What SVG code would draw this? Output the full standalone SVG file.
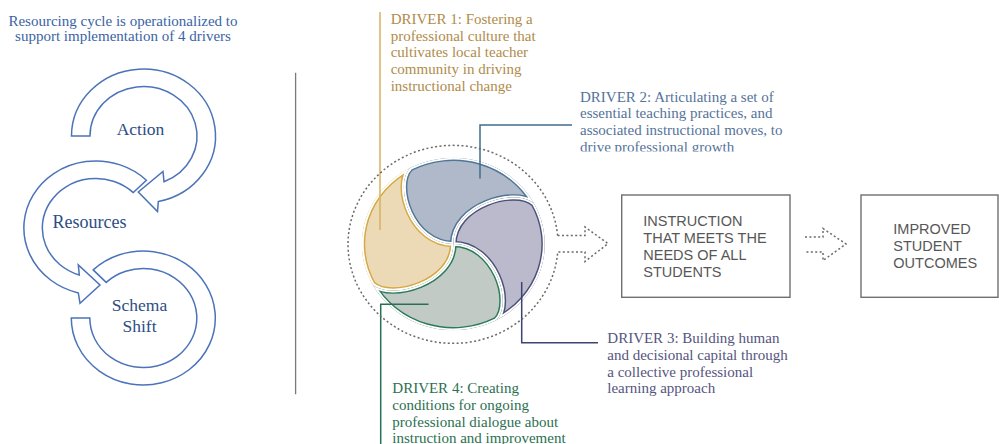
<svg xmlns="http://www.w3.org/2000/svg" xmlns:xlink="http://www.w3.org/1999/xlink" width="999" height="444" viewBox="0 0 999 444">
  <style>
    .serif { font-family: "Liberation Serif", "Times New Roman", serif; }
    .sans { font-family: "Liberation Sans", Arial, sans-serif; }
    .title { font-size: 15px; fill: #3a63a5; }
    .loop { fill: #ffffff; stroke: #4b73b9; stroke-width: 1.5; stroke-linejoin: miter; }
    .loop-label { font-size: 17.5px; fill: #2c4d85; }
    .drv { font-size: 15px; }
    .d1 { fill: #b08c4a; }
    .d2 { fill: #55739a; }
    .d3 { fill: #55557e; }
    .d4 { fill: #2b7050; }
    .box { fill: #ffffff; stroke: #6f6f6f; stroke-width: 1.4; }
    .box-text { font-size: 14.5px; fill: #575757; }
    .dots { fill: none; stroke: #6a6a6a; stroke-width: 1.5; stroke-dasharray: 2 2.4; }
    .lead { fill: none; stroke-width: 1.5; }
    .gap { fill: none; stroke: #ffffff; stroke-width: 3.8; }
  </style>
  <defs>
    <!-- one quarter of the pinwheel, centred on the origin -->
    <path id="tile" d="M -41.3 -77.7 A 88 88 0 0 0 -77.7 41.3 C -60 58 0 40 0 0 C -40 0 -58 -60 -41.3 -77.7 Z"/>
    <clipPath id="tileClip"><use xlink:href="#tile"/></clipPath>
    <clipPath id="d2Clip"><rect x="560" y="80" width="260" height="71.5"/></clipPath>
  </defs>

  <rect width="999" height="444" fill="#ffffff"/>

  <!-- heading over the resourcing cycle -->
  <g id="cycle-title" class="serif title" text-anchor="middle">
    <text x="123" y="25.5">Resourcing cycle is operationalized to</text>
    <text x="123" y="40.7">support implementation of 4 drivers</text>
  </g>

  <!-- resourcing cycle loops -->
  <g id="loop-action">
    <path class="loop" d="M 71.5 136 A 72 67 0 1 1 158.3 201.6 L 157.5 211.5 L 138.3 192 L 163 171.5 L 164 181.7 A 53.5 49.5 0 1 0 90 136 Z"/>
    <text class="serif loop-label" x="140.5" y="135" text-anchor="middle">Action</text>
  </g>
  <g id="loop-resources">
    <path class="loop" d="M 146.4 180.2 A 72 67 0 1 0 78.3 292.9 L 80 303.3 L 100 285 L 78.3 265 L 79.3 275 A 53.5 49.5 0 1 1 133.3 192.6 Z"/>
    <text class="serif loop-label" x="89.5" y="227.7" text-anchor="middle" style="font-size:18px">Resources</text>
  </g>
  <g id="loop-schema">
    <path class="loop" d="M 93.2 269.9 A 72 67 0 1 1 71.3 318 L 89.8 318 A 53.5 49.5 0 1 0 106.2 282.4 Z"/>
    <text class="serif loop-label" x="139.5" y="311" text-anchor="middle">Schema</text>
    <text class="serif loop-label" x="139.5" y="331.7" text-anchor="middle">Shift</text>
  </g>

  <!-- divider -->
  <g id="divider">
    <line x1="295.6" y1="72.7" x2="295.6" y2="394.3" stroke="#7a7a7a" stroke-width="1.3"/>
  </g>

  <!-- pinwheel of the four drivers -->
  <g id="driver-1-piece" transform="translate(453.3,244) scale(1.04,0.98)">
    <g clip-path="url(#tileClip)">
      <use xlink:href="#tile" fill="#ecd9b5" stroke="#d6a844" stroke-width="6.6"/>
      <use xlink:href="#tile" class="gap"/>
    </g>
  </g>
  <g id="driver-2-piece" transform="translate(453.3,244) scale(1.04,0.98) rotate(90)">
    <g clip-path="url(#tileClip)">
      <use xlink:href="#tile" fill="#b0b9ca" stroke="#4f7694" stroke-width="6.6"/>
      <use xlink:href="#tile" class="gap"/>
    </g>
  </g>
  <g id="driver-3-piece" transform="translate(453.3,244) scale(1.04,0.98) rotate(180)">
    <g clip-path="url(#tileClip)">
      <use xlink:href="#tile" fill="#bbbacc" stroke="#4c5179" stroke-width="6.6"/>
      <use xlink:href="#tile" class="gap"/>
    </g>
  </g>
  <g id="driver-4-piece" transform="translate(453.3,244) scale(1.04,0.98) rotate(270)">
    <g clip-path="url(#tileClip)">
      <use xlink:href="#tile" fill="#c1cac4" stroke="#2b7a5a" stroke-width="6.6"/>
      <use xlink:href="#tile" class="gap"/>
    </g>
  </g>

  <!-- driver labels -->
  <g id="driver-1-label" class="serif drv d1">
    <text x="390.7" y="24">DRIVER 1: Fostering a</text>
    <text x="390.7" y="40.7">professional culture that</text>
    <text x="390.7" y="57.4">cultivates local teacher</text>
    <text x="390.7" y="74.1">community in driving</text>
    <text x="390.7" y="90.8">instructional change</text>
  </g>
  <g id="driver-2-label" class="serif drv d2" clip-path="url(#d2Clip)">
    <text x="580" y="101.7">DRIVER 2: Articulating a set of</text>
    <text x="580" y="118.4">essential teaching practices, and</text>
    <text x="580" y="135.1">associated instructional moves, to</text>
    <text x="580" y="151.8">drive professional growth</text>
  </g>
  <g id="driver-3-label" class="serif drv d3">
    <text x="607.3" y="343.3">DRIVER 3: Building human</text>
    <text x="607.3" y="360">and decisional capital through</text>
    <text x="607.3" y="376.7">a collective professional</text>
    <text x="607.3" y="393.4">learning approach</text>
  </g>
  <g id="driver-4-label" class="serif drv d4">
    <text x="392.3" y="393.3">DRIVER 4: Creating</text>
    <text x="392.3" y="410">conditions for ongoing</text>
    <text x="392.3" y="426.7">professional dialogue about</text>
    <text x="392.3" y="443.4">instruction and improvement</text>
  </g>

  <!-- outcome boxes -->
  <g id="box-instruction">
    <rect class="box" x="621.7" y="195" width="168.3" height="102.3"/>
    <g class="sans box-text">
      <text x="643.3" y="225.5">INSTRUCTION</text>
      <text x="643.3" y="242.5">THAT MEETS THE</text>
      <text x="643.3" y="259.5">NEEDS OF ALL</text>
      <text x="643.3" y="276.5">STUDENTS</text>
    </g>
  </g>
  <g id="box-outcomes">
    <rect class="box" x="861" y="195" width="137" height="102.3"/>
    <g class="sans box-text">
      <text x="893.3" y="234">IMPROVED</text>
      <text x="893.3" y="251">STUDENT</text>
      <text x="893.3" y="268">OUTCOMES</text>
    </g>
  </g>

  <!-- connectors: leader lines and dotted flow arrows -->
  <g id="connectors">
    <polyline class="lead" stroke="#d9b15f" points="380,12 380,230"/>
    <polyline class="lead" stroke="#3f6d8c" points="572,125 480,125 480,178.5"/>
    <polyline class="lead" stroke="#3c4470" points="521.7,282 521.7,342.8 598,342.8"/>
    <polyline class="lead" stroke="#2c6e52" points="428.5,304.3 380.7,304.3 380.7,444"/>
    <path class="dots" d="M 557.6 235.6 L 585 235.6 L 585 227 L 608 243.6 L 585 261.5 L 585 252 L 557.7 252 A 105 99 0 1 1 557.6 235.6"/>
    <path class="dots" d="M 805 237 L 823 237 L 823 228.5 L 846 244 L 823 260.5 L 823 252 L 805 252"/>
  </g>
</svg>
